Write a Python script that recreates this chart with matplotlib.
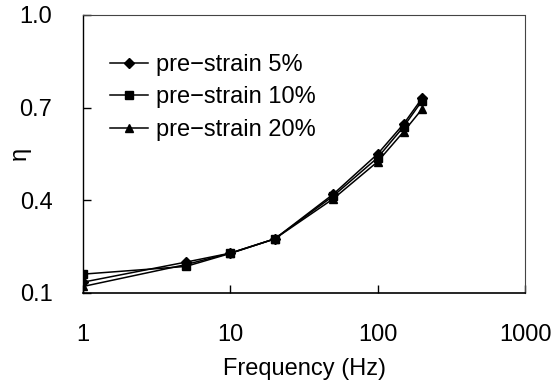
import numpy as np
import matplotlib
matplotlib.use("Agg")
import matplotlib.pyplot as plt
from matplotlib.ticker import FixedLocator, FixedFormatter, NullLocator

plt.rcParams['font.family'] = ['Liberation Sans', 'DejaVu Sans']

freq = [1, 5, 10, 20, 50, 100, 150, 200]
eta_5 = [0.135, 0.200, 0.229, 0.275, 0.420, 0.550, 0.647, 0.730]
eta_10 = [0.161, 0.186, 0.228, 0.275, 0.414, 0.538, 0.638, 0.722]
eta_20 = [0.121, 0.192, 0.229, 0.275, 0.405, 0.525, 0.622, 0.695]

xticks = [1, 10, 100, 1000]
xtick_labels = ['1', '10', '100', '1000']
yticks = [0.1, 0.4, 0.7, 1.0]
ytick_labels = ['0.1', '0.4', '0.7', '1.0']

fig = plt.figure(figsize=(5.55, 3.81), dpi=100)
ax = fig.add_axes([0.1495, 0.231, 0.7965, 0.730])

ax.plot(freq, eta_5, '-', color='black', lw=1.1, marker='D', ms=5, label='pre\u2212strain 5%')
ax.plot(freq, eta_10, '-', color='black', lw=1.1, marker='s', ms=5.8, label='pre\u2212strain 10%')
ax.plot(freq, eta_20, '-', color='black', lw=1.1, marker='^', ms=6, label='pre\u2212strain 20%')

ax.set_xscale('log')
ax.set_xlim(1, 1000)
ax.set_ylim(0.1, 1.0)
ax.xaxis.set_major_locator(FixedLocator(xticks))
ax.xaxis.set_major_formatter(FixedFormatter(xtick_labels))
ax.xaxis.set_minor_locator(NullLocator())
ax.yaxis.set_major_locator(FixedLocator(yticks))
ax.yaxis.set_major_formatter(FixedFormatter(ytick_labels))
ax.tick_params(direction='in', length=6, width=1, labelsize=17, pad=22)

for s in ['top', 'right']:
    ax.spines[s].set_linewidth(0.8)
    ax.spines[s].set_color('#444444')
    ax.spines[s].set_linestyle((0, (1, 1)))
ax.spines['left'].set_linewidth(1.0)
ax.spines['bottom'].set_linewidth(1.2)

ax.set_xlabel('Frequency (Hz)', fontsize=17, va='top')
ax.xaxis.set_label_coords(0.5, -0.232)
ax.set_ylabel('\u03b7', fontsize=17)
ax.yaxis.set_label_coords(-0.119, 0.5)

ax.legend(loc='upper left', frameon=False, fontsize=17, handlelength=1.6,
          handletextpad=0.35, labelspacing=0.45, borderpad=0, borderaxespad=0,
          bbox_to_anchor=(0.061, 0.86))

fig.savefig('out.png', dpi=100)
